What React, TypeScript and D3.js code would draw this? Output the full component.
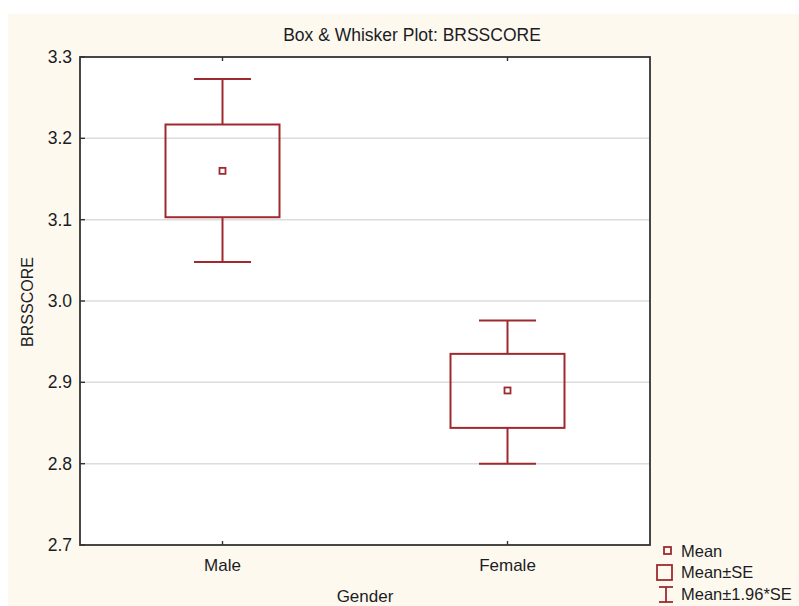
import * as d3 from 'd3';

const categories = ['Male', 'Female'];
const means = [3.16, 2.89];
const seLow = [3.103, 2.844];
const seHigh = [3.217, 2.935];
const ciLow = [3.048, 2.8];
const ciHigh = [3.273, 2.976];
const yTicks = [2.7, 2.8, 2.9, 3.0, 3.1, 3.2, 3.3];
const legendLabels = ['Mean', 'Mean±SE', 'Mean±1.96*SE'];

export default function App() {
  const width = 799;
  const height = 606;
  const margin = { top: 57, right: 149, bottom: 61, left: 80 };
  const plotRight = width - margin.right;
  const plotBottom = height - margin.bottom;

  const red = '#9e2a2f';
  const ink = '#1c1c24';
  const font = 'Arial, "Liberation Sans", sans-serif';

  const xScale = d3.scalePoint<string>()
    .domain(categories)
    .range([margin.left, plotRight])
    .padding(0.5);

  const yScale = d3.scaleLinear()
    .domain([2.7, 3.3])
    .range([plotBottom, margin.top]);

  const step = xScale.step();
  const boxW = step * 0.4;
  const capW = step * 0.2;

  return (
    <svg width={width} height={height} style={{ position: 'absolute', left: 0, top: 0 }}>
      <rect x={8} y={14} width={width - 8} height={height - 14} fill="#fdf9ef" />
      <rect x={margin.left} y={margin.top} width={plotRight - margin.left} height={plotBottom - margin.top} fill="#ffffff" />

      {/* gridlines */}
      {yTicks.slice(1, -1).map((t, i) => (
        <line key={i} x1={margin.left} x2={plotRight} y1={yScale(t)} y2={yScale(t)} stroke="#dcdcdc" strokeWidth={1.5} />
      ))}

      {/* title */}
      <text x={412} y={41} textAnchor="middle" fontSize={17.5} fontFamily={font} fill={ink}>
        Box &amp; Whisker Plot: BRSSCORE
      </text>

      {/* boxes */}
      {categories.map((c, i) => {
        const cx = xScale(c)!;
        return (
          <g key={c} stroke={red} strokeWidth={2} fill="none">
            <line x1={cx} x2={cx} y1={yScale(ciHigh[i])} y2={yScale(seHigh[i])} />
            <line x1={cx} x2={cx} y1={yScale(seLow[i])} y2={yScale(ciLow[i])} />
            <line x1={cx - capW / 2} x2={cx + capW / 2} y1={yScale(ciHigh[i])} y2={yScale(ciHigh[i])} />
            <line x1={cx - capW / 2} x2={cx + capW / 2} y1={yScale(ciLow[i])} y2={yScale(ciLow[i])} />
            <rect x={cx - boxW / 2} y={yScale(seHigh[i])} width={boxW} height={yScale(seLow[i]) - yScale(seHigh[i])} />
            <rect x={cx - 3} y={yScale(means[i]) - 3} width={6} height={6} strokeWidth={1.8} />
          </g>
        );
      })}

      {/* frame */}
      <rect x={margin.left} y={margin.top} width={plotRight - margin.left} height={plotBottom - margin.top} fill="none" stroke="#333" strokeWidth={1.8} />

      {/* y axis */}
      {yTicks.map((t, i) => (
        <g key={i}>
          <line x1={margin.left} x2={margin.left + 5} y1={yScale(t)} y2={yScale(t)} stroke="#333" strokeWidth={1.4} />
          <text x={72} y={yScale(t)} dy="0.35em" textAnchor="end" fontSize={17.5} fontFamily={font} fill={ink}>
            {t.toFixed(1)}
          </text>
        </g>
      ))}
      <text transform={`translate(33,302) rotate(-90)`} textAnchor="middle" fontSize={16} fontFamily={font} fill={ink}>
        BRSSCORE
      </text>

      {/* x axis */}
      {categories.map(c => (
        <g key={c}>
          <line x1={xScale(c)} x2={xScale(c)} y1={plotBottom} y2={plotBottom - 4} stroke="#333" strokeWidth={1.4} />
          <line x1={xScale(c)} x2={xScale(c)} y1={margin.top} y2={margin.top + 4} stroke="#333" strokeWidth={1.4} />
          <text x={xScale(c)} y={571} textAnchor="middle" fontSize={17} fontFamily={font} fill={ink}>
            {c}
          </text>
        </g>
      ))}
      <text x={(margin.left + plotRight) / 2} y={602} textAnchor="middle" fontSize={17} fontFamily={font} fill={ink}>
        Gender
      </text>

      {/* legend */}
      <g stroke={red} fill="none" strokeWidth={1.8}>
        <rect x={664} y={547} width={7} height={7} />
        <rect x={657} y={565} width={15} height={15} />
        <line x1={666} x2={666} y1={587} y2={602} />
        <line x1={659} x2={673} y1={587} y2={587} />
        <line x1={659} x2={673} y1={602} y2={602} />
      </g>
      {legendLabels.map((l, i) => (
        <text key={l} x={681} y={551 + i * 21.5} dy="0.35em" fontSize={16.5} fontFamily={font} fill={ink}>
          {l}
        </text>
      ))}
    </svg>
  );
}
